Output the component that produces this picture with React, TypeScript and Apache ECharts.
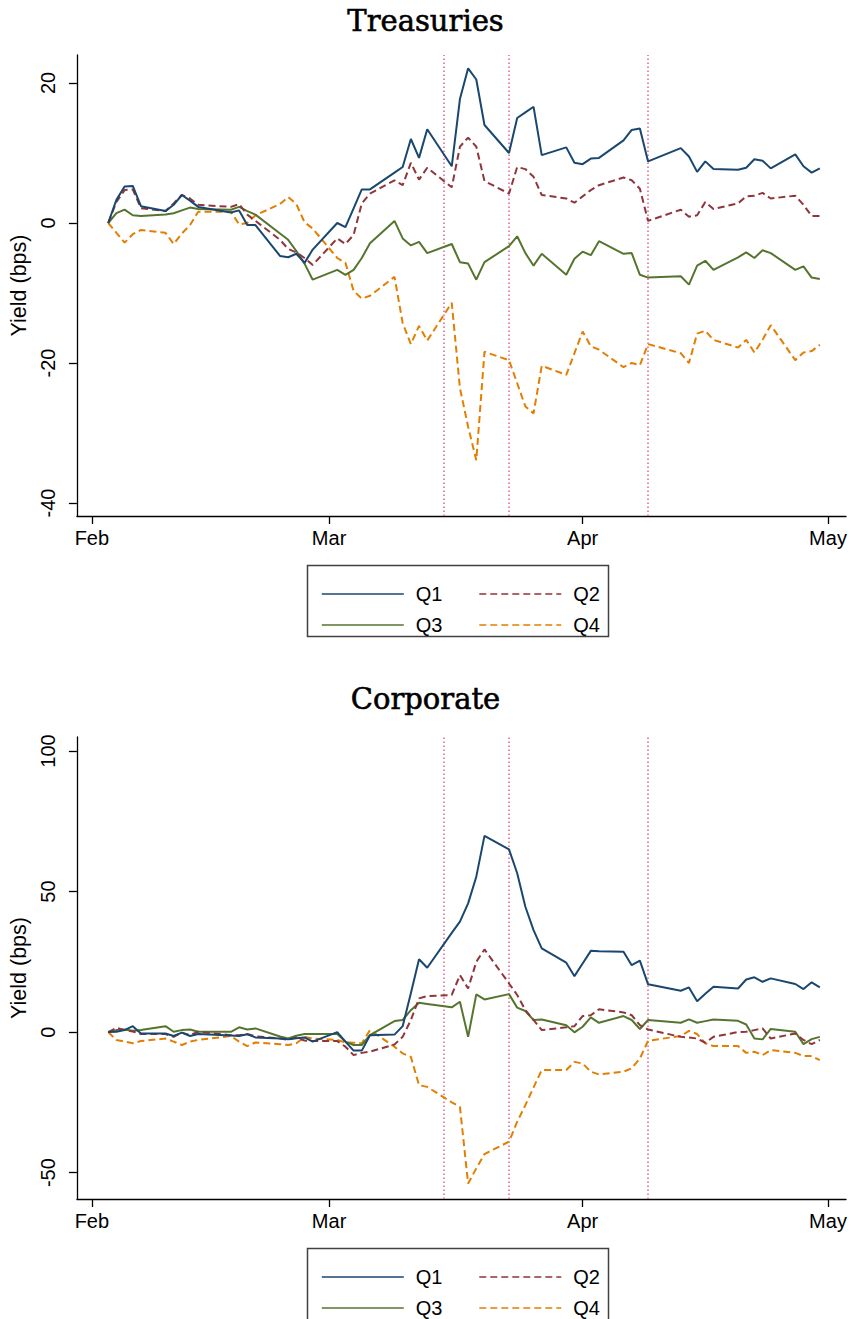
import React, { useEffect, useRef } from "react";
import * as echarts from "echarts";

const tradingDates = [
  "2020-02-03","2020-02-04","2020-02-05","2020-02-06","2020-02-07",
  "2020-02-10","2020-02-11","2020-02-12","2020-02-13","2020-02-14",
  "2020-02-18","2020-02-19","2020-02-20","2020-02-21",
  "2020-02-24","2020-02-25","2020-02-26","2020-02-27","2020-02-28",
  "2020-03-02","2020-03-03","2020-03-04","2020-03-05","2020-03-06",
  "2020-03-09","2020-03-10","2020-03-11","2020-03-12","2020-03-13",
  "2020-03-16","2020-03-17","2020-03-18","2020-03-19","2020-03-20",
  "2020-03-23","2020-03-24","2020-03-25","2020-03-26","2020-03-27",
  "2020-03-30","2020-03-31","2020-04-01","2020-04-02","2020-04-03",
  "2020-04-06","2020-04-07","2020-04-08","2020-04-09",
  "2020-04-13","2020-04-14","2020-04-15","2020-04-16","2020-04-17",
  "2020-04-20","2020-04-21","2020-04-22","2020-04-23","2020-04-24",
  "2020-04-27","2020-04-28","2020-04-29","2020-04-30",
];

const monthTickDates = ["2020-02-01", "2020-03-01", "2020-04-01", "2020-05-01"];
const monthTickLabels = ["Feb", "Mar", "Apr", "May"];
const eventDates = ["2020-03-15", "2020-03-23", "2020-04-09"];
const seriesNames = ["Q1", "Q2", "Q3", "Q4"];
const treasuryTicks = [-40, -20, 0, 20];
const corporateTicks = [-50, 0, 50, 100];

// Treasuries
const treasuriesQ1 = [
  0, 3.3, 5.2, 5.3, 2.4,
  1.7, 2.6, 4.0, 3.2, 2.3,
  1.5, 1.8, -0.3, -0.3,
  -4.7, -4.9, -4.4, -5.7, -3.8,
  0.0, -0.6, 2.1, 4.8, 4.8,
  7.2, 8.0, 12.0, 9.3, 13.4,
  8.1, 17.7, 22.1, 20.5, 14.0,
  10.0, 15.0, 15.8, 16.6, 9.7,
  10.8, 8.6, 8.4, 9.2, 9.3,
  11.8, 13.3, 13.5, 8.8,
  10.7, 9.5, 7.3, 8.8, 7.7,
  7.6, 7.9, 9.1, 8.9, 7.8,
  9.8, 8.1, 7.2, 7.8,
];
const treasuriesQ2 = [
  0, 3.0, 4.7, 4.8, 2.1,
  1.7, 2.8, 4.0, 3.5, 2.6,
  2.3, 2.7, 1.2, 0.3,
  -2.4, -3.7, -4.2, -5.0, -6.0,
  -2.2, -3.0, -1.7, 2.8, 4.2,
  6.1, 5.4, 8.6, 6.2, 7.9,
  5.1, 10.9, 12.2, 10.9, 6.0,
  4.2, 8.0, 7.7, 6.6, 4.0,
  3.5, 2.9, 3.8, 4.7, 5.4,
  6.5, 6.1, 4.9, 0.3,
  1.9, 0.9, 1.1, 3.0, 2.0,
  2.8, 3.8, 3.9, 4.3, 3.5,
  3.9, 2.6, 1.0, 1.0,
];
const treasuriesQ3 = [
  0, 1.4, 1.9, 1.1, 1.0,
  1.2, 1.4, 1.8, 2.2, 2.0,
  1.9, 2.3, 1.7, 1.2,
  -1.5, -2.4, -4.0, -5.8, -8.1,
  -6.7, -7.4, -6.7, -5.0, -2.9,
  0.3, -2.2, -3.2, -2.7, -4.3,
  -3.0, -5.6, -5.8, -8.1, -5.6,
  -3.3, -1.9, -4.3, -6.1, -4.4,
  -7.4, -5.1, -4.1, -4.6, -2.6,
  -4.4, -4.3, -7.4, -7.8,
  -7.6, -8.8, -6.1, -5.4, -6.7,
  -4.9, -4.2, -5.0, -3.9, -4.3,
  -6.7, -6.2, -7.8, -8.0,
];
const treasuriesQ4 = [
  0, -1.4, -2.8, -1.6, -1.0,
  -1.4, -3.0, -1.5, -0.3, 1.6,
  1.6, -0.2, 0.0, 1.1,
  2.7, 3.7, 2.7, 0.1, -0.8,
  -5.0, -5.7, -9.7, -10.8, -10.4,
  -7.7, -14.3, -17.3, -14.7, -16.8,
  -11.4, -23.6, -29.1, -33.9, -18.4,
  -19.6, -22.9, -26.2, -27.2, -20.4,
  -21.7, -18.6, -15.5, -17.6, -18.1,
  -20.6, -20.0, -20.3, -17.3,
  -18.6, -20.0, -15.8, -15.4, -16.7,
  -17.8, -16.7, -18.5, -16.7, -14.6,
  -19.6, -18.5, -18.3, -17.4,
];

// Corporate
const corporateQ1 = [
  0, 0.1, 0.7, 2.1, -0.5,
  -0.5, -1.4, -0.2, -1.4, -0.7,
  -1.2, -1.4, -0.8, -1.9,
  -2.3, -2.6, -2.2, -1.9, -3.4,
  0.0, -3.4, -6.6, -6.6, -1.1,
  -0.9, 2.1, 13.8, 25.9, 22.9,
  35.3, 39.3, 45.8, 55.3, 69.8,
  65.0, 56.5, 44.6, 36.3, 29.8,
  24.7, 19.9, 24.4, 28.9, 28.8,
  28.6, 23.8, 25.4, 17.0,
  14.7, 15.9, 11.0, 13.6, 16.1,
  15.5, 18.7, 19.5, 17.9, 19.1,
  17.1, 15.3, 17.7, 15.9,
];
const corporateQ2 = [
  0, 1.5, 0.7, 0.2, -0.7,
  -0.7, -1.7, -0.2, -1.1, 0.1,
  -1.1, -1.1, -0.7, -1.5,
  -2.3, -2.8, -1.9, -3.0, -3.2,
  -3.2, -5.2, -8.2, -7.4, -7.0,
  -4.4, -1.7, 4.3, 12.0, 12.8,
  13.2, 20.3, 15.5, 25.0, 29.4,
  17.3, 13.2, 7.8, 4.3, 0.7,
  1.7, 2.1, 5.7, 6.0, 8.1,
  7.0, 6.0, 2.5, 0.9,
  -1.7, -1.9, -2.3, -3.8, -1.7,
  0.0, 0.1, 0.7, 1.3, -2.3,
  -0.5, -2.8, -4.3, -2.8,
];
const corporateQ3 = [
  0, 0.7, 0.9, 0.5, 0.7,
  2.1, 0.1, 0.7, 0.9, 0.1,
  0.1, 1.7, 0.9, 1.3,
  -1.6, -2.3, -1.3, -0.7, -0.7,
  -0.7, -3.4, -4.6, -4.6, -1.1,
  3.9, 4.3, 7.8, 10.4, 10.0,
  8.8, 10.8, -1.7, 13.4, 11.6,
  13.5, 8.7, 7.5, 4.3, 4.5,
  2.4, -0.1, 1.9, 5.2, 3.3,
  5.7, 4.3, 1.1, 4.3,
  3.3, 4.5, 3.3, 3.9, 4.5,
  4.0, 2.7, -2.3, -2.6, 1.1,
  0.1, -4.3, -2.5, -1.7,
];
const corporateQ4 = [
  0, -2.8, -3.4, -4.0, -3.2,
  -2.3, -3.4, -4.6, -3.4, -2.8,
  -1.4, -3.4, -5.0, -3.7,
  -4.3, -4.6, -4.0, -1.7, -2.3,
  -2.8, -3.7, -3.8, -4.0, 0.7,
  -5.2, -7.6, -8.8, -18.9, -19.5,
  -25.0, -26.6, -53.9, -48.5, -43.4,
  -39.0, -31.9, -26.0, -19.7, -13.5,
  -13.5, -10.6, -11.2, -14.1, -15.1,
  -14.1, -12.9, -9.4, -3.1,
  -1.4, 0.4, -0.7, -4.0, -5.0,
  -5.0, -7.4, -7.0, -8.2, -6.4,
  -7.4, -8.5, -8.5, -10.0,
];

const colors = ["#1a476f", "#90353b", "#55752f", "#e37e00"];
const dashed = [false, true, false, true];
const SANS = "Liberation Sans, Arial, sans-serif";
const SERIF = "DejaVu Serif, serif";

const dayIndex = (s: string) => {
  const [y, m, d] = s.split("-").map(Number);
  return (Date.UTC(y, m - 1, d) - Date.UTC(2020, 1, 1)) / 86400000;
};

const tickDays = monthTickDates.map(dayIndex);

export default function App() {
  const ref = useRef<HTMLDivElement>(null);
  useEffect(() => {
    document.body.style.margin = "0";
    if (!ref.current) return;
    const chart = echarts.init(ref.current, null, { renderer: "svg" });
    const panels = [
      { values: [treasuriesQ1, treasuriesQ2, treasuriesQ3, treasuriesQ4] },
      { values: [corporateQ1, corporateQ2, corporateQ3, corporateQ4] },
    ];
    const xAxisBase = (gridIndex: number) => ({
      type: "value",
      gridIndex,
      min: -1.83,
      max: 92.2,
      axisLine: { show: true, onZero: false, lineStyle: { color: "#000", width: 1.3 } },
      axisTick: { show: true, length: 8, customValues: tickDays, lineStyle: { color: "#000", width: 1.3 } },
      axisLabel: {
        customValues: tickDays,
        margin: 12,
        fontSize: 20,
        fontFamily: SANS,
        color: "#000",
        formatter: (v: number) => {
          const i = tickDays.indexOf(Math.round(v));
          return i >= 0 ? monthTickLabels[i] : "";
        },
      },
      splitLine: { show: false },
    });
    const yAxisBase = (gridIndex: number, min: number, max: number, ticks: number[]) => ({
      type: "value",
      gridIndex,
      min,
      max,
      name: "Yield (bps)",
      nameLocation: "middle",
      nameGap: 39,
      nameTextStyle: { fontSize: 21.5, fontFamily: SANS, color: "#000" },
      axisLine: { show: true, onZero: false, lineStyle: { color: "#000", width: 1.3 } },
      axisTick: { show: true, length: 8, customValues: ticks, lineStyle: { color: "#000", width: 1.3 } },
      axisLabel: {
        customValues: ticks,
        rotate: 90,
        margin: 19,
        fontSize: 20,
        fontFamily: SANS,
        color: "#000",
      },
      splitLine: { show: false },
    });

    const series: any[] = [];
    panels.forEach((p, pi) => {
      p.values.forEach((vals, si) => {
        series.push({
          type: "line",
          name: seriesNames[si],
          xAxisIndex: pi,
          yAxisIndex: pi,
          symbol: "none",
          showSymbol: false,
          connectNulls: true,
          data: tradingDates.map((d, i) => [dayIndex(d), vals[i]]),
          lineStyle: {
            color: colors[si],
            width: 2,
            type: dashed[si] ? [7, 4] : "solid",
          },
          itemStyle: { color: colors[si] },
          z: 10 - si,
          markLine:
            si === 0
              ? {
                  silent: true,
                  symbol: ["none", "none"],
                  label: { show: false },
                  lineStyle: { color: "#e2638c", width: 1.5, type: [1.5, 2.5] },
                  data: eventDates.map((d) => ({ xAxis: dayIndex(d) })),
                }
              : undefined,
        });
      });
    });

    const legendBase = {
      orient: "horizontal",
      itemWidth: 82,
      itemHeight: 14,
      itemGap: 36,
      selectedMode: false,
      itemStyle: { opacity: 0, borderWidth: 0 },
      lineStyle: { width: 1.6 },
      textStyle: { fontSize: 20, fontFamily: SANS, color: "#000", padding: [0, 0, 0, 7] },
    };

    const titleStyle = { fontFamily: SERIF, fontWeight: "normal", fontSize: 29, color: "#000", textBorderColor: "#000", textBorderWidth: 0.6 };

    chart.setOption({
      animation: false,
      backgroundColor: "#fff",
      title: [
        { text: "Treasuries", left: "center", top: 1, textStyle: titleStyle },
        { text: "Corporate", left: "center", top: 679, textStyle: titleStyle },
      ],
      grid: [
        { left: 75, top: 55, width: 771, height: 461 },
        { left: 75, top: 737, width: 771, height: 462 },
      ],
      xAxis: [xAxisBase(0), xAxisBase(1)],
      yAxis: [
        yAxisBase(0, -41.86, 24, treasuryTicks),
        yAxisBase(1, -59.4, 105, corporateTicks),
      ],
      legend: [
        { ...legendBase, data: ["Q1", "Q2"], left: 316, top: 579 },
        { ...legendBase, data: ["Q3", "Q4"], left: 316, top: 610 },
        { ...legendBase, data: ["Q1", "Q2"], left: 316, top: 1262 },
        { ...legendBase, data: ["Q3", "Q4"], left: 316, top: 1293 },
      ],
      graphic: [
        {
          type: "rect",
          shape: { x: 307.5, y: 565.5, width: 301, height: 71 },
          style: { fill: "none", stroke: "#404040", lineWidth: 1.5 },
          silent: true,
        },
        {
          type: "rect",
          shape: { x: 307.5, y: 1248.5, width: 301, height: 80 },
          style: { fill: "none", stroke: "#404040", lineWidth: 1.5 },
          silent: true,
        },
      ],
      series,
    });
    return () => chart.dispose();
  }, []);
  return <div ref={ref} style={{ width: 851, height: 1319 }} />;
}
